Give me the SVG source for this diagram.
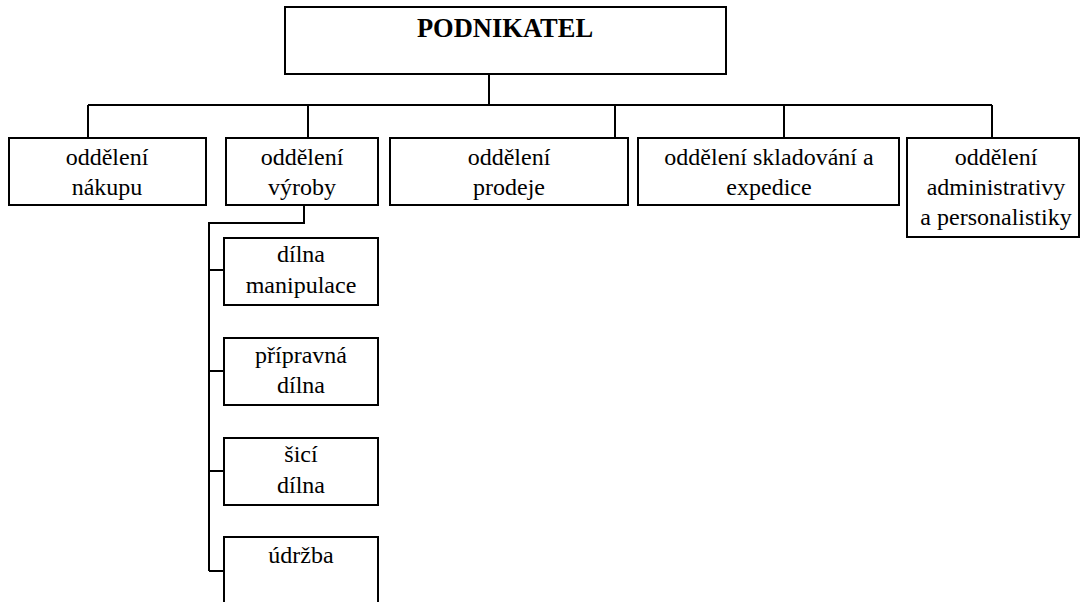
<svg xmlns="http://www.w3.org/2000/svg" width="1080" height="602" viewBox="0 0 1080 602">
<style>
.box{fill:#fff;stroke:#000;stroke-width:2}
.ln{fill:none;stroke:#000;stroke-width:2}
text{font-family:'Liberation Serif','Times New Roman',Times,serif;fill:#000;text-anchor:middle}
.t{font-size:24px}
.h{font-size:26.5px;font-weight:bold}
</style>
<rect width="1080" height="602" fill="#fff"/>
<g id="connectors">
<path class="ln" d="M489,74 V105 M88,105 H992 M88,105 V138 M308,105 V138 M615,105 V138 M784,105 V138 M992,105 V138"/>
<path class="ln" d="M304,205 V223 H209 V571 M209,270 H224 M209,371 H224 M209,471 H224 M209,571 H224"/>
</g>
<g id="podnikatel"><rect class="box" x="285" y="7" width="441" height="67"/><text class="h" x="505" y="37" font-family="Liberation Serif, serif">PODNIKATEL</text></g>
<g id="nakup" font-family="Liberation Serif, serif"><rect class="box" x="9" y="138" width="197" height="67"/><text class="t" x="107" y="165">oddělení</text><text class="t" x="107" y="195">nákupu</text></g>
<g id="vyroba"><rect class="box" x="226" y="138" width="152" height="67"/><text class="t" x="302" y="165">oddělení</text><text class="t" x="302" y="195">výroby</text></g>
<g id="prodej"><rect class="box" x="390" y="138" width="238" height="67"/><text class="t" x="509" y="165">oddělení</text><text class="t" x="509" y="195">prodeje</text></g>
<g id="sklad"><rect class="box" x="638" y="138" width="261" height="67"/><text class="t" x="769" y="165">oddělení skladování a</text><text class="t" x="769" y="195">expedice</text></g>
<g id="admin"><rect class="box" x="907" y="138" width="172" height="99"/><text class="t" x="996" y="165">oddělení</text><text class="t" x="996" y="195">administrativy</text><text class="t" x="996" y="225">a personalistiky</text></g>
<g id="dilna-manipulace"><rect class="box" x="224" y="238" width="154" height="67"/><text class="t" x="301" y="262">dílna</text><text class="t" x="301" y="293">manipulace</text></g>
<g id="pripravna-dilna"><rect class="box" x="224" y="338" width="154" height="67"/><text class="t" x="301" y="363">přípravná</text><text class="t" x="301" y="393">dílna</text></g>
<g id="sici-dilna"><rect class="box" x="224" y="438" width="154" height="67"/><text class="t" x="301" y="462">šicí</text><text class="t" x="301" y="493">dílna</text></g>
<g id="udrzba"><rect class="box" x="224" y="537" width="154" height="80"/><text class="t" x="301" y="563">údržba</text></g>
</svg>
